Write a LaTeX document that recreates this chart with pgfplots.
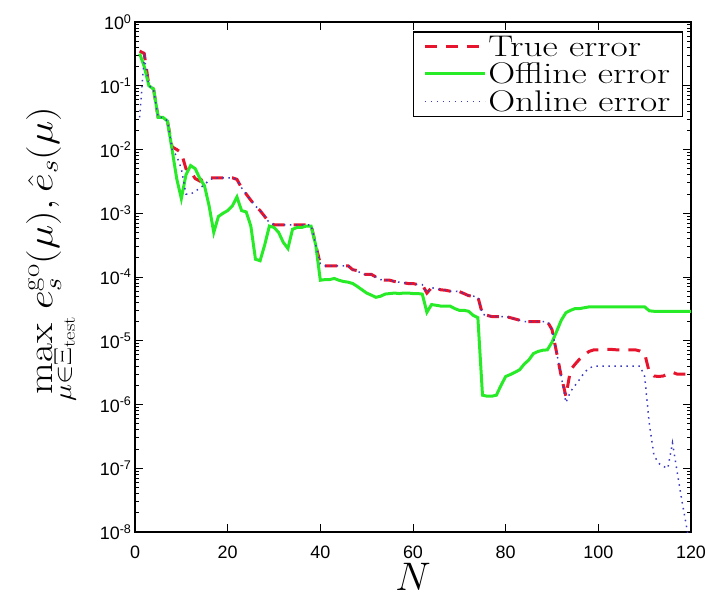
\documentclass[border=0pt]{standalone}
\usepackage{fix-cm}
\usepackage{fontspec}
\usepackage{graphicx}
\usepackage{pgfplots}
\pgfplotsset{compat=1.18}
\newfontfamily\ticksf{Liberation Sans}
\definecolor{trueRed}{RGB}{230,20,45}
\definecolor{offGreen}{RGB}{40,235,40}
\definecolor{onBlue}{RGB}{60,60,190}

% N, true error, offline error, online error
\pgfplotstableread{
N true offline online
1 3.5e-1 3.2e-1 3.2e-2
2 3.2e-1 2.0e-1 2.8e-1
3 1.0e-1 1.0e-1 1.0e-1
4 8.9e-2 8.9e-2 8.9e-2
5 3.2e-2 3.2e-2 3.2e-2
6 3.2e-2 3.2e-2 3.2e-2
7 2.8e-2 2.8e-2 2.8e-2
8 1.1e-2 1.0e-2 1.0e-2
9 1.0e-2 3.5e-3 7.9e-3
10 8.9e-3 1.7e-3 5.0e-3
11 5.0e-3 4.0e-3 2.0e-3
12 4.5e-3 5.6e-3 2.0e-3
13 3.5e-3 5.0e-3 2.2e-3
14 3.2e-3 3.5e-3 2.5e-3
15 3.6e-3 2.7e-3 2.8e-3
16 3.6e-3 1.3e-3 3.3e-3
17 3.6e-3 5.0e-4 3.6e-3
18 3.6e-3 8.9e-4 3.6e-3
19 3.6e-3 1.0e-3 3.6e-3
20 3.6e-3 1.1e-3 3.6e-3
21 3.6e-3 1.3e-3 3.6e-3
22 3.4e-3 1.8e-3 3.4e-3
23 2.5e-3 1.1e-3 2.5e-3
24 2.0e-3 1.05e-3 2.0e-3
25 1.6e-3 6.3e-4 1.6e-3
26 1.3e-3 1.9e-4 1.3e-3
27 1.1e-3 1.8e-4 1.1e-3
28 8.9e-4 3.2e-4 8.9e-4
29 7.1e-4 6.3e-4 7.1e-4
30 6.6e-4 6.0e-4 6.6e-4
31 6.6e-4 5.0e-4 6.6e-4
32 6.6e-4 3.5e-4 6.6e-4
33 6.6e-4 2.8e-4 6.6e-4
34 6.6e-4 5.6e-4 6.6e-4
35 6.6e-4 6.0e-4 6.6e-4
36 6.6e-4 6.0e-4 6.6e-4
37 6.6e-4 6.3e-4 6.6e-4
38 6.6e-4 6.3e-4 6.6e-4
39 3.2e-4 3.2e-4 3.2e-4
40 1.6e-4 8.9e-5 1.6e-4
41 1.5e-4 9.1e-5 1.5e-4
42 1.5e-4 9.1e-5 1.5e-4
43 1.5e-4 9.5e-5 1.5e-4
44 1.5e-4 8.9e-5 1.5e-4
45 1.5e-4 8.5e-5 1.5e-4
46 1.5e-4 8.3e-5 1.5e-4
47 1.3e-4 7.9e-5 1.3e-4
48 1.26e-4 7.1e-5 1.26e-4
49 1.1e-4 6.3e-5 1.1e-4
50 1.1e-4 5.6e-5 1.1e-4
51 1.1e-4 5.2e-5 1.1e-4
52 1.0e-4 4.8e-5 1.0e-4
53 9.1e-5 5.0e-5 9.1e-5
54 8.9e-5 5.4e-5 8.9e-5
55 8.9e-5 5.5e-5 8.9e-5
56 8.5e-5 5.6e-5 8.5e-5
57 8.3e-5 5.5e-5 8.3e-5
58 8.1e-5 5.6e-5 8.1e-5
59 7.9e-5 5.6e-5 7.9e-5
60 7.9e-5 5.5e-5 7.9e-5
61 7.6e-5 5.5e-5 7.6e-5
62 7.6e-5 5.4e-5 7.6e-5
63 5.6e-5 2.8e-5 5.6e-5
64 6.8e-5 3.7e-5 6.8e-5
65 6.6e-5 3.6e-5 6.6e-5
66 6.3e-5 3.5e-5 6.3e-5
67 6.2e-5 3.5e-5 6.2e-5
68 6.0e-5 3.5e-5 6.0e-5
69 6.0e-5 3.2e-5 6.0e-5
70 5.9e-5 3.0e-5 5.9e-5
71 5.5e-5 3.0e-5 5.5e-5
72 5.1e-5 2.9e-5 5.1e-5
73 5.0e-5 2.5e-5 5.0e-5
74 4.9e-5 2.3e-5 4.9e-5
75 2.6e-5 1.4e-6 2.6e-5
76 2.5e-5 1.35e-6 2.5e-5
77 2.4e-5 1.35e-6 2.4e-5
78 2.4e-5 1.4e-6 2.4e-5
79 2.4e-5 2.0e-6 2.4e-5
80 2.4e-5 2.75e-6 2.4e-5
81 2.3e-5 2.95e-6 2.3e-5
82 2.2e-5 3.2e-6 2.2e-5
83 2.1e-5 3.5e-6 2.1e-5
84 2.0e-5 4.3e-6 2.0e-5
85 2.0e-5 5.0e-6 2.0e-5
86 2.0e-5 6.3e-6 2.0e-5
87 2.0e-5 6.8e-6 2.0e-5
88 2.0e-5 7.1e-6 2.0e-5
89 2.0e-5 7.2e-6 2.0e-5
90 1.5e-5 9.5e-6 1.5e-5
91 6.5e-6 1.4e-5 6.5e-6
92 2.75e-6 2.1e-5 2.75e-6
93 1.35e-6 2.75e-5 1.07e-6
94 3.5e-6 3.0e-5 1.6e-6
95 4.3e-6 3.2e-5 2.0e-6
96 5.2e-6 3.2e-5 2.5e-6
97 6.0e-6 3.3e-5 3.2e-6
98 6.8e-6 3.4e-5 3.7e-6
99 7.2e-6 3.4e-5 4.0e-6
100 7.2e-6 3.4e-5 4.0e-6
101 7.3e-6 3.4e-5 4.0e-6
102 7.3e-6 3.4e-5 4.0e-6
103 7.3e-6 3.4e-5 4.0e-6
104 7.2e-6 3.4e-5 4.0e-6
105 7.2e-6 3.4e-5 4.0e-6
106 7.2e-6 3.4e-5 4.0e-6
107 7.2e-6 3.4e-5 4.0e-6
108 7.2e-6 3.4e-5 4.0e-6
109 6.9e-6 3.4e-5 4.0e-6
110 6.3e-6 3.4e-5 2.75e-6
111 3.2e-6 2.95e-5 5.0e-7
112 2.8e-6 2.9e-5 1.6e-7
113 2.75e-6 2.9e-5 1.2e-7
114 2.8e-6 2.9e-5 1.07e-7
115 3.0e-6 2.9e-5 1.0e-7
116 3.2e-6 2.9e-5 2.5e-7
117 3.0e-6 2.9e-5 8.9e-8
118 3.0e-6 2.9e-5 3.2e-8
119 3.0e-6 2.9e-5 1.26e-8
120 3.0e-6 2.9e-5 5.0e-9
}\errtable

\begin{document}
\begin{tikzpicture}
\begin{semilogyaxis}[
  scale only axis,
  width=556bp, height=510bp,
  xmin=0, xmax=120, ymin=1e-8, ymax=1,
  xtick={0,20,...,120},
  ytick={1e-8,1e-7,1e-6,1e-5,1e-4,1e-3,1e-2,1e-1,1},
  yticklabels={10\textsuperscript{-8},10\textsuperscript{-7},10\textsuperscript{-6},10\textsuperscript{-5},10\textsuperscript{-4},10\textsuperscript{-3},10\textsuperscript{-2},10\textsuperscript{-1},10\textsuperscript{0}},
  /pgf/number format/assume math mode=true,
  tick label style={font=\fontsize{18}{20}\selectfont\ticksf, black},
  xticklabel style={yshift=-10bp},
  tick align=inside,
  major tick length=8bp, minor tick length=4bp,
  every tick/.style={black, line width=0.9bp},
  axis line style={line width=1.8bp},
  xlabel={$N$},
  xlabel style={font=\fontsize{40}{42}\selectfont, inner sep=0bp, yshift=-2bp},
  ylabel={\scalebox{1.18}[1]{$\max\limits_{\mu\in\Xi_{\mathrm{test}}} e_s^{\mathrm{go}}(\mu), \hat{e}_s(\mu)$}},
  ylabel style={font=\fontsize{35}{37}\selectfont, at={(axis description cs:-0.15,0.545)}, anchor=center},
  legend style={at={(0.986,0.982)}, anchor=north east, draw=black, line width=1.5bp,
    font=\fontsize{30}{30}\selectfont, inner xsep=10bp, inner ysep=2bp, row sep=1bp,
    nodes={inner sep=2bp, anchor=west}},
  legend cell align=left,
  legend image code/.code={\draw[#1] (0bp,0bp) -- (60bp,0bp);},
]
\addplot[trueRed, line width=3bp, dash pattern=on 12bp off 9bp] table[x=N, y=true] {\errtable};
\addlegendentry{\scalebox{1.25}[1]{True error}}
\addplot[offGreen, line width=3bp] table[x=N, y=offline] {\errtable};
\addlegendentry{\scalebox{1.25}[1]{Offline error}}
\addplot[onBlue, line width=1.5bp, dash pattern=on 1.5bp off 4.5bp] table[x=N, y=online] {\errtable};
\addlegendentry{\scalebox{1.25}[1]{Online error}}
\end{semilogyaxis}
\pgfresetboundingbox
\path ([shift={(-135bp,-72bp)}]current axis.south west) rectangle ([shift={(15bp,22bp)}]current axis.north east);
\end{tikzpicture}
\end{document}
